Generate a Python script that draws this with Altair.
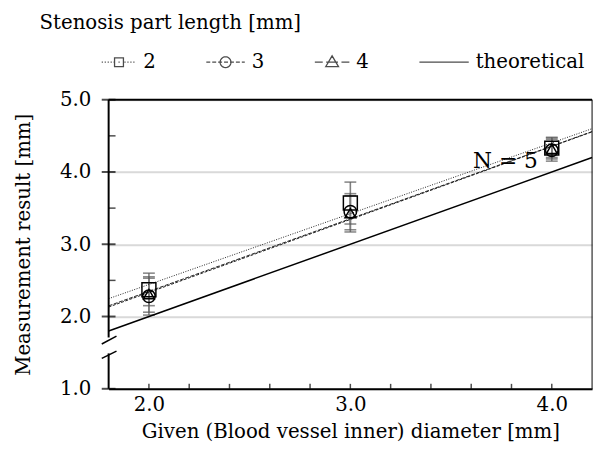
import altair as alt
import pandas as pd
import math

# ---------------- data ----------------
x_given = [2.0, 3.0, 4.0]
series_names = ["2", "3", "4"]
mean_2 = [2.37, 3.57, 4.33]
lo_2 = [2.15, 3.28, 4.20]
hi_2 = [2.60, 3.86, 4.47]
mean_3 = [2.28, 3.45, 4.30]
lo_3 = [2.02, 3.20, 4.15]
hi_3 = [2.55, 3.70, 4.45]
mean_4 = [2.31, 3.43, 4.32]
lo_4 = [2.06, 3.17, 4.18]
hi_4 = [2.53, 3.67, 4.48]
theory_x = [1.8, 4.2]
theory_y = [1.8, 4.2]
legend_names = ["2", "3", "4", "theoretical"]

x_domain = [1.8, 4.2]
y_domain = [1.0, 5.0]
y_major = [1.0, 2.0, 3.0, 4.0, 5.0]
y_minor = [2.5, 3.5, 4.5]
x_minor = [2.0, 2.2, 2.4, 2.6, 2.8, 3.0, 3.2, 3.4, 3.6, 3.8, 4.0]
axis_low = [1.0, 1.49]
axis_high = [1.71, 5.0]
break_x = [1.766, 1.839]
break_y1 = [1.62, 1.73]
break_y2 = [1.42, 1.52]
note_x = [3.77]
note_y = [4.15]
note_text = ["N = 5"]

FONT = "DejaVu Serif"

rows = []
for name, m, lo, hi in [("2", mean_2, lo_2, hi_2), ("3", mean_3, lo_3, hi_3), ("4", mean_4, lo_4, hi_4)]:
    for xv, mv, l, h in zip(x_given, m, lo, hi):
        rows.append({"x": xv, "y": mv, "lo": l, "hi": h, "series": name})
df = pd.DataFrame(rows)

xs = alt.Scale(domain=x_domain, nice=False, zero=False)
ys = alt.Scale(domain=y_domain, nice=False, zero=False)

# ---------------- legend symbols (custom paths, unit = 8 px) ----------------
U = 8.0
SH = 8.0  # shift so the symbol ends where the label begins

def seg(a, b):
    return f"M{(a+SH)/U:.3f},0L{(b+SH)/U:.3f},0"

def square(cx, h):
    cx += SH
    return (f"M{(cx-h)/U:.3f},{-h/U:.3f}L{(cx+h)/U:.3f},{-h/U:.3f}"
            f"L{(cx+h)/U:.3f},{h/U:.3f}L{(cx-h)/U:.3f},{h/U:.3f}Z")

def circle(cx, r, n=24):
    cx += SH
    pts = []
    for i in range(n):
        a = 2 * math.pi * i / n
        pts.append(((cx + r * math.cos(a)) / U, (r * math.sin(a)) / U))
    s = f"M{pts[0][0]:.3f},{pts[0][1]:.3f}"
    for p in pts[1:]:
        s += f"L{p[0]:.3f},{p[1]:.3f}"
    return s + "Z"

def triangle(cx, h):
    cx += SH
    return (f"M{(cx-h)/U:.3f},{(0.7*h)/U:.3f}L{cx/U:.3f},{(-h)/U:.3f}"
            f"L{(cx+h)/U:.3f},{(0.7*h)/U:.3f}Z")

p2 = "".join(seg(a, a + 1.2) for a in [-35, -32, -29, -26, -23]) + seg(-18, -16.8) + \
     "".join(seg(a, a + 1.2) for a in [-12, -9, -6, -3]) + square(-17.5, 4.5)
p3 = "".join(seg(a, a + 4) for a in [-39, -33, -27, -21, -15, -9]) + seg(-3, 0) + circle(-19.5, 5.5)
p4 = seg(-35, -27) + seg(-23.5, -11.5) + seg(-8, 0) + triangle(-17.5, 6.5)
pt = seg(-50, 0)
legend_paths = [p2, p3, p4, pt]

base = alt.Chart(df)

# error bars
err = base.mark_rule(color="#7f7f7f", strokeWidth=1.6).encode(
    x=alt.X("x:Q", scale=xs), y=alt.Y("lo:Q", scale=ys), y2="hi:Q")
cap_lo = base.mark_tick(color="#595959", orient="horizontal", size=12, thickness=1.6).encode(
    x=alt.X("x:Q", scale=xs), y=alt.Y("lo:Q", scale=ys))
cap_hi = base.mark_tick(color="#595959", orient="horizontal", size=12, thickness=1.6).encode(
    x=alt.X("x:Q", scale=xs), y=alt.Y("hi:Q", scale=ys))

# regression lines
reg = base.transform_regression("x", "y", groupby=["series"], extent=x_domain).mark_line(
    color="#222222", strokeWidth=1).encode(
    x=alt.X("x:Q", scale=xs),
    y=alt.Y("y:Q", scale=ys),
    strokeDash=alt.StrokeDash("series:N", scale=alt.Scale(domain=series_names,
                              range=[[1, 1.5], [3, 1.5], [4, 1.5]]), legend=None),
    detail="series:N")

theory = alt.Chart(pd.DataFrame({"x": theory_x, "y": theory_y})).mark_line(
    color="black", strokeWidth=1.5).encode(x=alt.X("x:Q", scale=xs), y=alt.Y("y:Q", scale=ys))

pts = base.mark_point(filled=False, color="black", strokeWidth=1.5, opacity=1).encode(
    x=alt.X("x:Q", scale=xs),
    y=alt.Y("y:Q", scale=ys),
    shape=alt.Shape("series:N", scale=alt.Scale(domain=series_names,
                    range=["square", "circle", "triangle-up"]), legend=None),
    size=alt.Size("series:N", scale=alt.Scale(domain=series_names, range=[200, 120, 130]), legend=None))

# legend layer (no marks drawn, only legend)
leg = alt.Chart(pd.DataFrame({"series": legend_names, "x": [2.0]*4, "y": [2.0]*4})).transform_filter(
    "datum.series == 'zzz'").mark_point(filled=False, color="black").encode(
    x=alt.X("x:Q", scale=xs), y=alt.Y("y:Q", scale=ys),
    shape=alt.Shape("series:N", scale=alt.Scale(domain=legend_names, range=legend_paths),
                    legend=alt.Legend(orient="none", legendX=10, legendY=-48, direction="horizontal",
                                      title=None, symbolSize=256, symbolStrokeColor="black",
                                      symbolStrokeWidth=1.3, symbolFillColor="transparent",
                                      labelFont=FONT, labelFontSize=20, labelColor="black",
                                      labelOffset=5, columnPadding=48, padding=0)))

# axes
xaxis_layer = alt.Chart(pd.DataFrame({"x": x_given})).mark_tick(opacity=0).encode(
    x=alt.X("x:Q", scale=xs, axis=alt.Axis(values=x_given, format=".1f", ticks=False, grid=False,
            domainColor="black", domainWidth=2, labelPadding=6,
            title="Given (Blood vessel inner) diameter [mm]", titlePadding=7)),
    y=alt.Y("x:Q", scale=ys, axis=alt.Axis(values=y_major, format=".1f", ticks=False, domain=False,
            grid=True, gridColor="#d9d9d9", gridWidth=2, labelPadding=18,
            title="Measurement result [mm]", titlePadding=26)))

yaxis_lines = alt.Chart(pd.DataFrame({"x": [1.8, 1.8], "a": [axis_low[0], axis_high[0]],
                                      "b": [axis_low[1], axis_high[1]]})).mark_rule(
    color="black", strokeWidth=2).encode(x=alt.X("x:Q", scale=xs), y=alt.Y("a:Q", scale=ys), y2="b:Q")

breaks = alt.Chart(pd.DataFrame({"x": break_x[:1]*2, "x2": break_x[1:]*2,
                                 "y": [break_y1[0], break_y2[0]], "y2": [break_y1[1], break_y2[1]]})).mark_rule(
    color="black", strokeWidth=1.5, clip=False).encode(
    x=alt.X("x:Q", scale=xs), x2="x2:Q", y=alt.Y("y:Q", scale=ys), y2="y2:Q")

top_border = alt.Chart(pd.DataFrame({"a": [x_domain[0]], "b": [x_domain[1]], "y": [y_domain[1]]})).mark_rule(
    color="black", strokeWidth=2).encode(x=alt.X("a:Q", scale=xs), x2="b:Q", y=alt.Y("y:Q", scale=ys))
right_border = alt.Chart(pd.DataFrame({"x": [x_domain[1]], "a": [y_domain[0]], "b": [y_domain[1]]})).mark_rule(
    color="black", strokeWidth=1).encode(x=alt.X("x:Q", scale=xs), y=alt.Y("a:Q", scale=ys), y2="b:Q")

ymaj = alt.Chart(pd.DataFrame({"y": y_major, "x": [1.8]*5})).mark_tick(
    orient="horizontal", size=14, thickness=2, color="black", clip=False).encode(
    x=alt.X("x:Q", scale=xs), y=alt.Y("y:Q", scale=ys))
ymin = alt.Chart(pd.DataFrame({"y": y_minor, "x": [1.8]*3})).mark_tick(
    orient="horizontal", size=7, thickness=1.5, color="black", xOffset=3.5).encode(
    x=alt.X("x:Q", scale=xs), y=alt.Y("y:Q", scale=ys))
xmin = alt.Chart(pd.DataFrame({"x": x_minor, "y": [1.0]*len(x_minor)})).mark_tick(
    orient="vertical", size=5, thickness=1.5, color="black", yOffset=-2.5).encode(
    x=alt.X("x:Q", scale=xs), y=alt.Y("y:Q", scale=ys))

note = alt.Chart(pd.DataFrame({"x": note_x, "y": note_y, "t": note_text})).mark_text(
    font=FONT, fontSize=22, color="black", align="center", baseline="middle").encode(
    x=alt.X("x:Q", scale=xs), y=alt.Y("y:Q", scale=ys), text="t:N")

chart = alt.layer(xaxis_layer, err, cap_lo, cap_hi, theory, reg, pts, leg,
                  yaxis_lines, breaks, top_border, right_border, ymaj, ymin, xmin, note).resolve_scale(
    shape="independent", size="independent", strokeDash="independent").properties(
    width=490, height=293,
    title=alt.TitleParams("Stenosis part length [mm]", anchor="start", frame="group", dx=-70,
                          font=FONT, fontSize=20, fontWeight="normal", color="black", offset=20),
    padding={"left": 6, "top": 2, "right": 2, "bottom": 0}
).configure_view(stroke=None).configure_axis(
    labelFont=FONT, labelFontSize=20, labelColor="black",
    titleFont=FONT, titleFontSize=20, titleFontWeight="normal", titleColor="black"
).configure_title(font=FONT).configure_legend(labelFont=FONT)

chart.save("out.html", embed_options={"renderer": "svg", "actions": False})
